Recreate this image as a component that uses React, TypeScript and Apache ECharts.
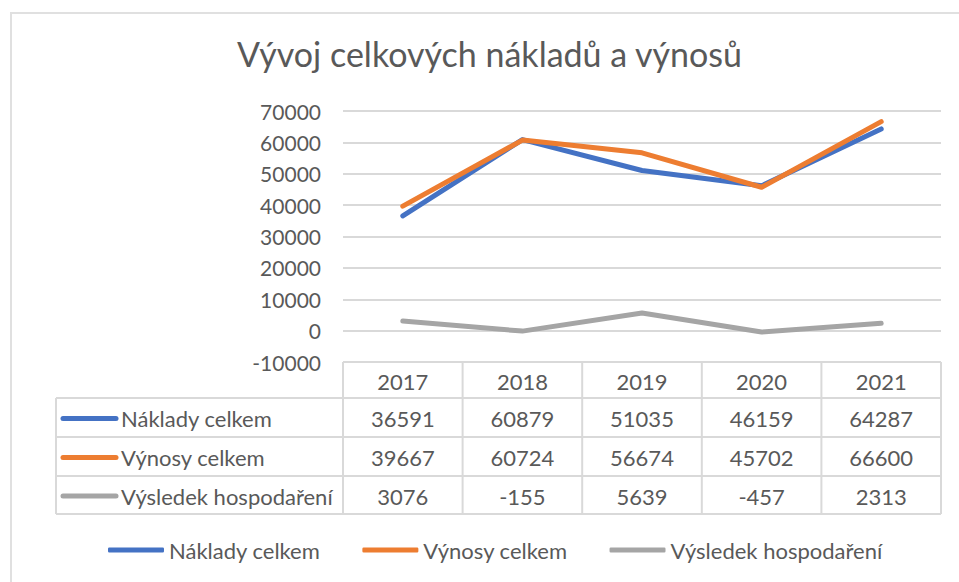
import React, { useEffect, useRef } from "react";
import * as echarts from "echarts";

const years = ["2017", "2018", "2019", "2020", "2021"];
const seriesNames = ["Náklady celkem", "Výnosy celkem", "Výsledek hospodaření"];
const naklady = [36591, 60879, 51035, 46159, 64287];
const vynosy = [39667, 60724, 56674, 45702, 66600];
const vysledek = [3076, -155, 5639, -457, 2313];
const seriesColors = ["#4472C4", "#ED7D31", "#A5A5A5"];
const yMin = -10000;
const yMax = 70000;
const yStep = 10000;
const titleText = "Vývoj celkových nákladů a výnosů";

const W = 959;
const H = 582;
const FONT = "Lato";
const TEXT = "#595959";
const LINE = "#D9D9D9";

export default function App() {
  const ref = useRef<HTMLDivElement>(null);
  useEffect(() => {
    document.body.style.margin = "0";
    if (!ref.current) return;
    const chart = echarts.init(ref.current, null, { renderer: "svg" });
    const values = [naklady, vynosy, vysledek];

    const gridLeft = 343;
    const gridRight = 941;
    const gridTop = 111;
    const gridBottom = 362;
    const colW = (gridRight - gridLeft) / years.length;
    const tableLeft = 56;
    const rowY = [362, 398, 437, 476, 514];

    const g: any[] = [];
    g.push({
      type: "rect",
      shape: { x: 11, y: 13, width: W + 20, height: H + 20 },
      style: { fill: "none", stroke: "#E0E0E0", lineWidth: 2 },
      silent: true,
    });
    g.push({ type: "line", shape: { x1: gridLeft, y1: rowY[0], x2: gridRight, y2: rowY[0] }, style: { stroke: LINE, lineWidth: 2 } });
    for (let r = 1; r < rowY.length; r++) {
      g.push({ type: "line", shape: { x1: tableLeft, y1: rowY[r], x2: gridRight, y2: rowY[r] }, style: { stroke: LINE, lineWidth: 2 } });
    }
    g.push({ type: "line", shape: { x1: tableLeft, y1: rowY[1], x2: tableLeft, y2: rowY[4] }, style: { stroke: LINE, lineWidth: 2 } });
    for (let c = 0; c <= years.length; c++) {
      const x = gridLeft + c * colW;
      g.push({ type: "line", shape: { x1: x, y1: rowY[0], x2: x, y2: rowY[4] }, style: { stroke: LINE, lineWidth: 2 } });
    }
    years.forEach((yr, c) => {
      g.push({
        type: "text",
        x: gridLeft + (c + 0.5) * colW,
        y: (rowY[0] + rowY[1]) / 2 + 1,
        style: { text: yr, fill: TEXT, font: `22px ${FONT}`, align: "center", verticalAlign: "middle" },
      });
    });
    seriesNames.forEach((name, r) => {
      const cy = (rowY[r + 1] + rowY[r + 2]) / 2 + 1;
      g.push({
        type: "line",
        shape: { x1: 63, y1: cy, x2: 116, y2: cy },
        style: { stroke: seriesColors[r], lineWidth: 5, lineCap: "round" },
      });
      g.push({
        type: "text",
        x: 121,
        y: cy,
        style: { text: name, fill: TEXT, font: `22px ${FONT}`, align: "left", verticalAlign: "middle" },
      });
      values[r].forEach((v, c) => {
        g.push({
          type: "text",
          x: gridLeft + (c + 0.5) * colW,
          y: cy,
          style: { text: String(v), fill: TEXT, font: `22px ${FONT}`, align: "center", verticalAlign: "middle" },
        });
      });
    });

    chart.setOption({
      animation: false,
      backgroundColor: "#ffffff",
      title: {
        text: titleText,
        left: 237,
        top: 36,
        padding: 0,
        textStyle: { fontFamily: FONT, fontSize: 34, fontWeight: "normal", color: TEXT },
      },
      grid: {
        left: gridLeft,
        right: W - gridRight,
        top: gridTop,
        bottom: H - gridBottom,
        outerBoundsMode: "none",
      },
      xAxis: {
        type: "category",
        data: years,
        boundaryGap: true,
        axisLine: { show: false },
        axisTick: { show: false },
        axisLabel: { show: false },
      },
      yAxis: {
        type: "value",
        min: yMin,
        max: yMax,
        interval: yStep,
        axisLine: { show: false },
        axisTick: { show: false },
        axisLabel: {
          color: TEXT,
          fontFamily: FONT,
          fontSize: 21,
          margin: 22,
          formatter: (v: number) => String(v),
        },
        splitLine: { lineStyle: { color: LINE, width: 2 } },
      },
      legend: {
        data: seriesNames,
        left: 108,
        top: 539,
        padding: 0,
        itemWidth: 56,
        itemHeight: 5,
        itemGap: 42,
        icon: "roundRect",
        textStyle: { color: TEXT, fontFamily: FONT, fontSize: 22 },
      },
      series: seriesNames.map((name, i) => ({
        name,
        type: "line",
        data: values[i],
        symbol: "none",
        color: seriesColors[i],
        lineStyle: { width: 5, color: seriesColors[i], cap: "round", join: "round" },
        z: i === 1 ? 3 : 2,
      })),
      graphic: g,
    });
    return () => chart.dispose();
  }, []);
  return <div ref={ref} style={{ width: W, height: H }} />;
}
